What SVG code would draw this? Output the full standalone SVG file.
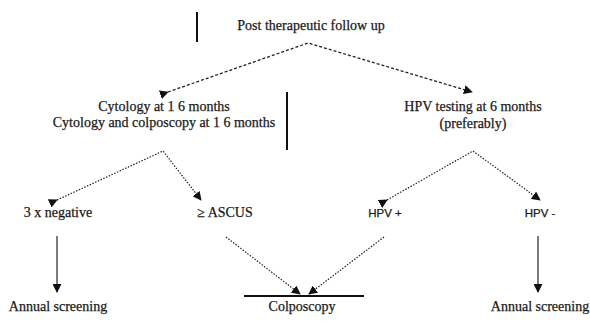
<svg xmlns="http://www.w3.org/2000/svg" width="590" height="324" viewBox="0 0 590 324">
<style>
text{font-family:"Liberation Serif","Times New Roman",serif;font-size:14px;fill:#1a1a1a;text-anchor:middle;stroke:#1a1a1a;stroke-width:0.25}
.s{font-family:"Liberation Sans",Arial,sans-serif;font-size:11.5px}
.d{stroke:#222;stroke-width:1.3;fill:none;stroke-dasharray:3 2}
.p{stroke:#222;stroke-width:1.2;fill:none;stroke-dasharray:1.5 1.5}
.l{stroke:#222;stroke-width:1.2;fill:none}
.b{stroke:#111;stroke-width:2;fill:none}
</style>
<defs>
<marker id="ah" viewBox="0 0 10 10" refX="9" refY="5" markerWidth="9" markerHeight="9" markerUnits="userSpaceOnUse" orient="auto"><path d="M0,0 L10,5 L0,10 z" fill="#111"/></marker>
</defs>
<rect width="590" height="324" fill="#fff"/>
<g id="bars">
<line class="b" x1="197" y1="12" x2="197" y2="42"/>
<line class="b" x1="287" y1="92" x2="287" y2="150"/>
<line class="b" x1="244" y1="296" x2="364" y2="296"/>
</g>
<g id="connectors">
<polyline class="d" points="168,92 308,43 472,92" marker-start="url(#ah)" marker-end="url(#ah)"/>
<polyline class="p" points="57,200 163,151 201,200" marker-start="url(#ah)" marker-end="url(#ah)"/>
<polyline class="p" points="387,200 473,151 540,200" marker-start="url(#ah)" marker-end="url(#ah)"/>
<line class="l" x1="57" y1="236" x2="57" y2="292" marker-end="url(#ah)"/>
<line class="l" x1="538" y1="236" x2="538" y2="292" marker-end="url(#ah)"/>
<line class="p" x1="226" y1="237" x2="300" y2="294" marker-end="url(#ah)"/>
<line class="p" x1="384" y1="237" x2="309" y2="294" marker-end="url(#ah)"/>
</g>
<g id="n-root"><text x="311" y="30">Post therapeutic follow up</text></g>
<g id="n-cyt"><text x="164" y="111">Cytology at 1 6 months</text><text x="164" y="127">Cytology and colposcopy at 1 6 months</text></g>
<g id="n-hpv"><text x="473" y="111">HPV testing at 6 months</text><text x="473" y="128">(preferably)</text></g>
<g id="n-neg"><text x="58" y="217">3 x negative</text></g>
<g id="n-ascus"><text x="225" y="217">≥ ASCUS</text></g>
<g id="n-hpvpos"><text class="s" x="385" y="217">HPV +</text></g>
<g id="n-hpvneg"><text class="s" x="540" y="217">HPV -</text></g>
<g id="n-ann1"><text x="58" y="311">Annual screening</text></g>
<g id="n-colpo"><text x="302" y="311">Colposcopy</text></g>
<g id="n-ann2"><text x="540" y="311">Annual screening</text></g>
</svg>
